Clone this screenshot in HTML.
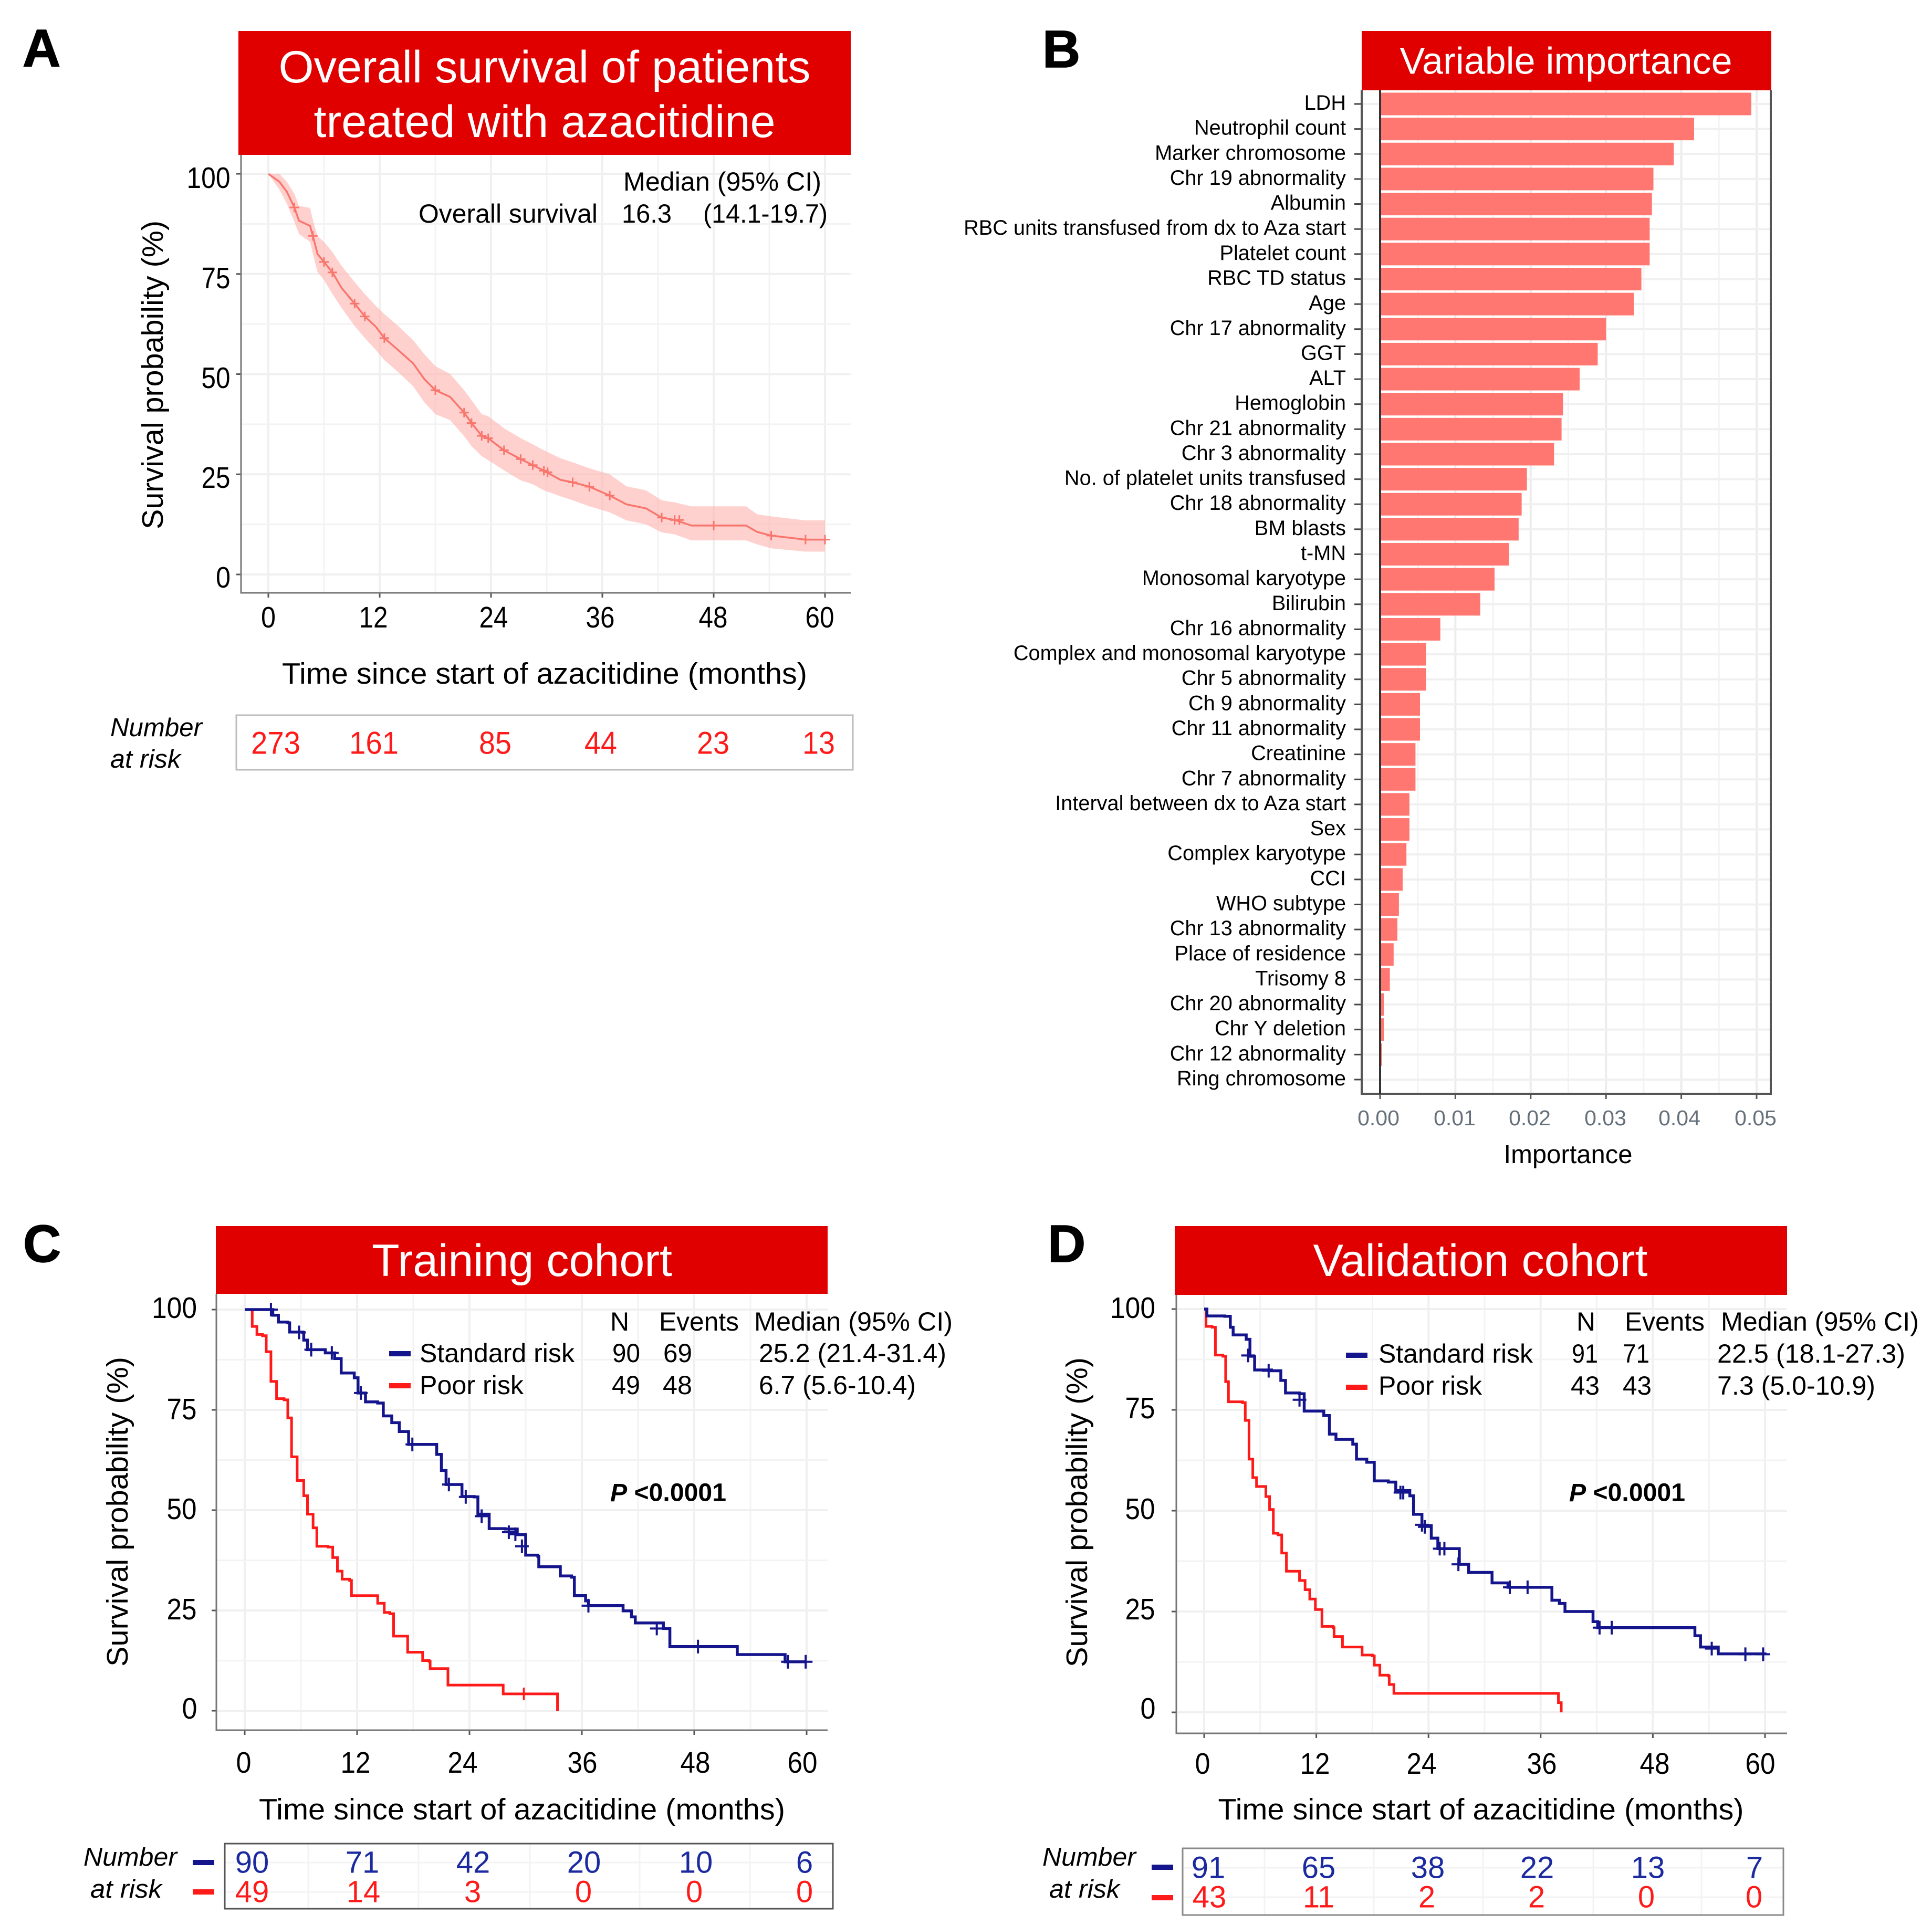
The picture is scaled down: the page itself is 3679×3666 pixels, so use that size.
<!DOCTYPE html>
<html lang="en">
<head>
<meta charset="utf-8">
<title>Survival figure</title>
<style>
html,body{margin:0;padding:0;background:#fff;}
svg{display:block;}
text{font-family:"Liberation Sans",sans-serif;dominant-baseline:central;fill:#000;}
.mid{text-anchor:middle;}
.end{text-anchor:end;}
.title{fill:#fff;font-size:86px;text-anchor:middle;}
.letter{font-size:100px;font-weight:bold;dominant-baseline:alphabetic;stroke:#000;stroke-width:1.5px;}
.axt{font-size:57px;text-anchor:middle;}
.leg{font-size:50px;}
.tk{font-size:57px;text-anchor:middle;}
.tke{font-size:57px;text-anchor:middle;}
.ra{font-size:60px;fill:#ff1a1a;text-anchor:middle;}
.rb{font-size:58px;fill:#1c2aa0;text-anchor:middle;}
.rr{font-size:58px;fill:#ff1a1a;text-anchor:middle;}
.ital{font-size:49px;font-style:italic;}
.pv{font-size:48px;font-weight:bold;}
.bt{font-size:41px;fill:#66707a;text-anchor:middle;}
</style>
</head>
<body>
<svg id="figure" xmlns="http://www.w3.org/2000/svg" width="3679" height="3666" viewBox="0 0 3679 3666">
<rect x="0" y="0" width="3679" height="3666" fill="#fff"/>
<g id="marks-a"></g>
<g id="marks-b"></g>
<g id="marks-c"></g>
<g id="marks-d"></g>

<!-- Panel A -->
<text class="letter" x="43" y="126">A</text>
<rect x="454" y="59" width="1166" height="236" fill="#e00000"/>
<text class="title" x="1037" y="128" textLength="1013" lengthAdjust="spacingAndGlyphs">Overall survival of patients</text>
<text class="title" x="1037" y="232" textLength="879" lengthAdjust="spacingAndGlyphs">treated with azacitidine</text>
<text class="axt" transform="translate(291 714) rotate(-90)" textLength="588" lengthAdjust="spacingAndGlyphs">Survival probability (%)</text>
<text class="axt" x="1037" y="1283" textLength="1000" lengthAdjust="spacingAndGlyphs">Time since start of azacitidine (months)</text>
<g>
<text class="tk" x="397" y="339" textLength="83" lengthAdjust="spacingAndGlyphs">100</text>
<text class="tk" x="411" y="530" textLength="55" lengthAdjust="spacingAndGlyphs">75</text>
<text class="tk" x="411" y="720" textLength="55" lengthAdjust="spacingAndGlyphs">50</text>
<text class="tk" x="411" y="910" textLength="55" lengthAdjust="spacingAndGlyphs">25</text>
<text class="tk" x="425" y="1100" textLength="28" lengthAdjust="spacingAndGlyphs">0</text>
</g>
<g>
<text class="tk" x="511" y="1176" textLength="28" lengthAdjust="spacingAndGlyphs">0</text>
<text class="tk" x="711" y="1176" textLength="55" lengthAdjust="spacingAndGlyphs">12</text>
<text class="tk" x="940" y="1176" textLength="55" lengthAdjust="spacingAndGlyphs">24</text>
<text class="tk" x="1143" y="1176" textLength="55" lengthAdjust="spacingAndGlyphs">36</text>
<text class="tk" x="1358" y="1176" textLength="55" lengthAdjust="spacingAndGlyphs">48</text>
<text class="tk" x="1561" y="1176" textLength="55" lengthAdjust="spacingAndGlyphs">60</text>
</g>
<g>
<text class="leg" x="1187" y="346" textLength="377" lengthAdjust="spacingAndGlyphs">Median (95% CI)</text>
<text class="leg" x="797" y="407" textLength="341" lengthAdjust="spacingAndGlyphs">Overall survival</text>
<text class="leg" x="1184" y="407" textLength="95" lengthAdjust="spacingAndGlyphs">16.3</text>
<text class="leg" x="1339" y="407" textLength="237" lengthAdjust="spacingAndGlyphs">(14.1-19.7)</text>
</g>
<g>
<text class="ital" x="210" y="1386" textLength="175" lengthAdjust="spacingAndGlyphs">Number</text>
<text class="ital" x="210" y="1446" textLength="134" lengthAdjust="spacingAndGlyphs">at risk</text>
<rect x="450" y="1362" width="1174" height="104" fill="none" stroke="#bdbdbd" stroke-width="3"/>
<text class="ra" x="525" y="1415" textLength="94" lengthAdjust="spacingAndGlyphs">273</text>
<text class="ra" x="712" y="1415" textLength="94" lengthAdjust="spacingAndGlyphs">161</text>
<text class="ra" x="943" y="1415" textLength="62" lengthAdjust="spacingAndGlyphs">85</text>
<text class="ra" x="1144" y="1415" textLength="62" lengthAdjust="spacingAndGlyphs">44</text>
<text class="ra" x="1358" y="1415" textLength="62" lengthAdjust="spacingAndGlyphs">23</text>
<text class="ra" x="1559" y="1415" textLength="62" lengthAdjust="spacingAndGlyphs">13</text>
</g>

<!-- Panel B -->
<text class="letter" x="1985" y="128">B</text>
<rect x="2593" y="59" width="780" height="113" fill="#e00000"/>
<text class="title" x="2982" y="117" style="font-size:71px" textLength="633" lengthAdjust="spacingAndGlyphs">Variable importance</text>
<text class="mid" x="2986" y="2199" style="font-size:49px" textLength="245" lengthAdjust="spacingAndGlyphs">Importance</text>
<g>
<text class="bt" x="2625" y="2129">0.00</text>
<text class="bt" x="2770" y="2129">0.01</text>
<text class="bt" x="2913" y="2129">0.02</text>
<text class="bt" x="3057" y="2129">0.03</text>
<text class="bt" x="3198" y="2129">0.04</text>
<text class="bt" x="3343" y="2129">0.05</text>
</g>

<!-- Panel C -->
<text class="letter" x="44" y="2403">C</text>
<rect x="411" y="2335" width="1165" height="129" fill="#e00000"/>
<text class="title" x="994" y="2401" textLength="572" lengthAdjust="spacingAndGlyphs">Training cohort</text>
<text class="axt" transform="translate(224 2879) rotate(-90)" textLength="590" lengthAdjust="spacingAndGlyphs">Survival probability (%)</text>
<text class="axt" x="994" y="3446" textLength="1002" lengthAdjust="spacingAndGlyphs">Time since start of azacitidine (months)</text>
<g>
<text class="tke" x="332" y="2491" textLength="86" lengthAdjust="spacingAndGlyphs">100</text>
<text class="tke" x="346" y="2684" textLength="57" lengthAdjust="spacingAndGlyphs">75</text>
<text class="tke" x="346" y="2874" textLength="57" lengthAdjust="spacingAndGlyphs">50</text>
<text class="tke" x="346" y="3065" textLength="57" lengthAdjust="spacingAndGlyphs">25</text>
<text class="tke" x="361" y="3254" textLength="29" lengthAdjust="spacingAndGlyphs">0</text>
</g>
<g>
<text class="tke" x="464" y="3357" textLength="29" lengthAdjust="spacingAndGlyphs">0</text>
<text class="tke" x="677" y="3357" textLength="57" lengthAdjust="spacingAndGlyphs">12</text>
<text class="tke" x="881" y="3357" textLength="57" lengthAdjust="spacingAndGlyphs">24</text>
<text class="tke" x="1109" y="3357" textLength="57" lengthAdjust="spacingAndGlyphs">36</text>
<text class="tke" x="1324" y="3357" textLength="57" lengthAdjust="spacingAndGlyphs">48</text>
<text class="tke" x="1528" y="3357" textLength="57" lengthAdjust="spacingAndGlyphs">60</text>
</g>
<g>
<text class="leg mid" x="1180" y="2517">N</text>
<text class="leg" x="1255" y="2517" textLength="152" lengthAdjust="spacingAndGlyphs">Events</text>
<text class="leg" x="1436" y="2517" textLength="378" lengthAdjust="spacingAndGlyphs">Median (95% CI)</text>
<rect x="741" y="2573" width="41" height="10" fill="#14148c"/>
<rect x="741" y="2634" width="41" height="10" fill="#ff1a1a"/>
<text class="leg" x="799" y="2577" textLength="295" lengthAdjust="spacingAndGlyphs">Standard risk</text>
<text class="leg" x="799" y="2638" textLength="198" lengthAdjust="spacingAndGlyphs">Poor risk</text>
<text class="leg" x="1166" y="2577" textLength="53" lengthAdjust="spacingAndGlyphs">90</text>
<text class="leg" x="1263" y="2577" textLength="55" lengthAdjust="spacingAndGlyphs">69</text>
<text class="leg" x="1445" y="2577" textLength="357" lengthAdjust="spacingAndGlyphs">25.2 (21.4-31.4)</text>
<text class="leg" x="1165" y="2638" textLength="54" lengthAdjust="spacingAndGlyphs">49</text>
<text class="leg" x="1262" y="2638" textLength="56" lengthAdjust="spacingAndGlyphs">48</text>
<text class="leg" x="1445" y="2638" textLength="299" lengthAdjust="spacingAndGlyphs">6.7 (5.6-10.4)</text>
</g>
<text class="pv" x="1162" y="2843" textLength="221" lengthAdjust="spacingAndGlyphs"><tspan font-style="italic">P</tspan> &lt;0.0001</text>
<g>
<text class="ital mid" x="248" y="3537" textLength="178" lengthAdjust="spacingAndGlyphs">Number</text>
<text class="ital mid" x="240" y="3598" textLength="136" lengthAdjust="spacingAndGlyphs">at risk</text>
<rect x="367" y="3542" width="41" height="10" fill="#14148c"/>
<rect x="367" y="3598" width="41" height="10" fill="#ff1a1a"/>
<path d="M587 3511V3635M797 3511V3635M1009 3511V3635M1218 3511V3635M1428 3511V3635M428 3547H1586M428 3603H1586" stroke="#f3f3f3" stroke-width="3" fill="none"/>
<rect x="428" y="3511" width="1158" height="124" fill="none" stroke="#555" stroke-width="3"/>
<text class="rb" x="480" y="3547">90</text>
<text class="rb" x="690" y="3547">71</text>
<text class="rb" x="901" y="3547">42</text>
<text class="rb" x="1112" y="3547">20</text>
<text class="rb" x="1325" y="3547">10</text>
<text class="rb" x="1532" y="3547">6</text>
<text class="rr" x="480" y="3603">49</text>
<text class="rr" x="692" y="3603">14</text>
<text class="rr" x="900" y="3603">3</text>
<text class="rr" x="1111" y="3603">0</text>
<text class="rr" x="1322" y="3603">0</text>
<text class="rr" x="1532" y="3603">0</text>
</g>

<!-- Panel D -->
<text class="letter" x="1995" y="2403">D</text>
<rect x="2237" y="2335" width="1166" height="131" fill="#e00000"/>
<text class="title" x="2819" y="2401" textLength="637" lengthAdjust="spacingAndGlyphs">Validation cohort</text>
<text class="axt" transform="translate(2051 2880) rotate(-90)" textLength="590" lengthAdjust="spacingAndGlyphs">Survival probability (%)</text>
<text class="axt" x="2820" y="3446" textLength="1001" lengthAdjust="spacingAndGlyphs">Time since start of azacitidine (months)</text>
<g>
<text class="tke" x="2157" y="2491" textLength="86" lengthAdjust="spacingAndGlyphs">100</text>
<text class="tke" x="2171" y="2682" textLength="57" lengthAdjust="spacingAndGlyphs">75</text>
<text class="tke" x="2171" y="2874" textLength="57" lengthAdjust="spacingAndGlyphs">50</text>
<text class="tke" x="2171" y="3065" textLength="57" lengthAdjust="spacingAndGlyphs">25</text>
<text class="tke" x="2186" y="3254" textLength="29" lengthAdjust="spacingAndGlyphs">0</text>
</g>
<g>
<text class="tke" x="2290" y="3359" textLength="29" lengthAdjust="spacingAndGlyphs">0</text>
<text class="tke" x="2504" y="3359" textLength="57" lengthAdjust="spacingAndGlyphs">12</text>
<text class="tke" x="2707" y="3359" textLength="57" lengthAdjust="spacingAndGlyphs">24</text>
<text class="tke" x="2936" y="3359" textLength="57" lengthAdjust="spacingAndGlyphs">36</text>
<text class="tke" x="3151" y="3359" textLength="57" lengthAdjust="spacingAndGlyphs">48</text>
<text class="tke" x="3352" y="3359" textLength="57" lengthAdjust="spacingAndGlyphs">60</text>
</g>
<g>
<text class="leg mid" x="3020" y="2517">N</text>
<text class="leg" x="3094" y="2517" textLength="152" lengthAdjust="spacingAndGlyphs">Events</text>
<text class="leg" x="3277" y="2517" textLength="377" lengthAdjust="spacingAndGlyphs">Median (95% CI)</text>
<rect x="2563" y="2576" width="41" height="10" fill="#14148c"/>
<rect x="2563" y="2637" width="41" height="10" fill="#ff1a1a"/>
<text class="leg" x="2625" y="2578" textLength="294" lengthAdjust="spacingAndGlyphs">Standard risk</text>
<text class="leg" x="2625" y="2639" textLength="197" lengthAdjust="spacingAndGlyphs">Poor risk</text>
<text class="leg" x="2993" y="2578" textLength="50" lengthAdjust="spacingAndGlyphs">91</text>
<text class="leg" x="3090" y="2578" textLength="51" lengthAdjust="spacingAndGlyphs">71</text>
<text class="leg" x="3270" y="2578" textLength="358" lengthAdjust="spacingAndGlyphs">22.5 (18.1-27.3)</text>
<text class="leg" x="2991" y="2639" textLength="55" lengthAdjust="spacingAndGlyphs">43</text>
<text class="leg" x="3090" y="2639" textLength="55" lengthAdjust="spacingAndGlyphs">43</text>
<text class="leg" x="3270" y="2639" textLength="301" lengthAdjust="spacingAndGlyphs">7.3 (5.0-10.9)</text>
</g>
<text class="pv" x="2988" y="2843" textLength="221" lengthAdjust="spacingAndGlyphs"><tspan font-style="italic">P</tspan> &lt;0.0001</text>
<g>
<text class="ital mid" x="2074" y="3537" textLength="178" lengthAdjust="spacingAndGlyphs">Number</text>
<text class="ital mid" x="2065" y="3598" textLength="134" lengthAdjust="spacingAndGlyphs">at risk</text>
<rect x="2193" y="3551" width="41" height="10" fill="#14148c"/>
<rect x="2193" y="3609" width="41" height="10" fill="#ff1a1a"/>
<path d="M2408 3520V3647M2616 3520V3647M2824 3520V3647M3034 3520V3647M3240 3520V3647M2252 3557H3396M2252 3613H3396" stroke="#f3f3f3" stroke-width="3" fill="none"/>
<rect x="2252" y="3520" width="1144" height="127" fill="none" stroke="#8a8a8a" stroke-width="3"/>
<text class="rb" x="2301" y="3557">91</text>
<text class="rb" x="2511" y="3557">65</text>
<text class="rb" x="2719" y="3557">38</text>
<text class="rb" x="2927" y="3557">22</text>
<text class="rb" x="3138" y="3557">13</text>
<text class="rb" x="3341" y="3557">7</text>
<text class="rr" x="2303" y="3613">43</text>
<text class="rr" x="2511" y="3613">11</text>
<text class="rr" x="2717" y="3613">2</text>
<text class="rr" x="2926" y="3613">2</text>
<text class="rr" x="3135" y="3613">0</text>
<text class="rr" x="3340" y="3613">0</text>
</g>
</svg>

<script>
// Shared axis values
const monthTicks = [0, 12, 24, 36, 48, 60];
const monthMinorTicks = [6, 18, 30, 42, 54];
const survivalTicks = [0, 25, 50, 75, 100];
const survivalMinorTicks = [12.5, 37.5, 62.5, 87.5];

// Panel A: overall survival
const aTimes = [0,1.2,2,2.8,3.3,4.5,4.8,5.3,6,6.9,7.9,9.3,10.4,11.6,12.5,14,15.6,16.8,18,19.6,21.1,21.9,23,23.7,25.4,27.2,28.5,29.7,31.5,32.8,34.6,36.8,38.6,40.7,42.4,43.8,45.6,51.5,52.7,54.2,57.9,60];
const aSurvival = [100,98,95.5,91.6,88.3,87,84.5,80,78,75.4,71.5,67.6,64.4,61.8,59,56,52.7,48.8,46,44.3,40.4,37.8,34.6,34,31,28.8,27.3,25.9,23.6,23,21.9,19.7,17.5,16.5,14.2,13.6,12.2,12.2,10.6,9.7,8.7,8.7];
const aUpper = [100,100,98,95,92,91.5,88.5,84.5,83,80.5,77,73,70,67,65,62,58.5,55,52,50,46,43.5,40,39.5,36.5,34,32.5,31,29,28,26.5,25,22,21,18.5,18,17,17,15,14.5,13.5,13.5];
const aLower = [100,96,92.5,88,85,83,80,75.5,73.5,70,66.5,62,59,56,53.5,50.5,47,43,40,38.5,34.5,32,29.5,28.5,26,23.5,22.5,21,19.5,18.5,17,15.5,13.5,12.5,10.5,10,8.5,8.5,7.5,6.5,5.7,5.7];
const aCensorTimes = [2.8,4.8,6,6.9,9.3,10.4,12.5,18,21.1,21.9,23,23.7,25.4,27.2,28.5,29.7,30.1,32.8,34.6,36.8,42.4,43.8,44.3,48,54.2,57.9,60];
const aCensorSurvival = [91.6,84.5,78,75.4,67.6,64.4,59,46,40.4,37.8,34.6,34,31,28.8,27.3,25.9,25.5,23,21.9,19.7,14.2,13.6,13.6,12.2,9.7,8.7,8.7];

// Panel B: variable importance
const bCategories = ["LDH","Neutrophil count","Marker chromosome","Chr 19 abnormality","Albumin","RBC units transfused from dx to Aza start","Platelet count","RBC TD status","Age","Chr 17 abnormality","GGT","ALT","Hemoglobin","Chr 21 abnormality","Chr 3 abnormality","No. of platelet units transfused","Chr 18 abnormality","BM blasts","t-MN","Monosomal karyotype","Bilirubin","Chr 16 abnormality","Complex and monosomal karyotype","Chr 5 abnormality","Ch 9 abnormality","Chr 11 abnormality","Creatinine","Chr 7 abnormality","Interval between dx to Aza start","Sex","Complex karyotype","CCI","WHO subtype","Chr 13 abnormality","Place of residence","Trisomy 8","Chr 20 abnormality","Chr Y deletion","Chr 12 abnormality","Ring chromosome"];
const bImportance = [0.0493,0.0417,0.0390,0.0363,0.0361,0.0358,0.0358,0.0347,0.0337,0.0300,0.0289,0.0265,0.0243,0.0241,0.0231,0.0195,0.0188,0.0184,0.0171,0.0152,0.0133,0.0080,0.0061,0.0061,0.0053,0.0053,0.0047,0.0047,0.0039,0.0039,0.0035,0.0030,0.0025,0.0023,0.0018,0.0013,0.0005,0.0005,0.00025,0];
const bTicks = [0,0.01,0.02,0.03,0.04,0.05];
const bMinorTicks = [0.005,0.015,0.025,0.035,0.045];

// Panel C: training cohort
const cStandardTimes = [0,2.8,3,3.6,4.6,4.8,6.2,6.3,6.7,8.6,9.6,10.3,11.7,12.1,12.9,14.2,14.8,15.7,16.5,17.5,19.8,20.5,21,21.5,23.2,24.5,24.9,26.1,27.8,29.1,30,31.3,31.4,33.1,33.7,34.9,35.2,36.4,36.7,40,40.4,41.3,41.7,44.7,45.4,52.5,52.6,57.4,57.7,60];
const cStandardSurvival = [100,100,98.6,96.9,96.7,94.4,94.3,92.4,90,89.2,87.8,84.2,83,79.2,77,76.7,73.5,71.8,69.6,66.4,66.4,63.9,59.9,56.4,53.4,53.3,49,45.4,45.3,43.9,38.8,38.5,35.9,35.9,33.6,33.3,28.7,27.4,26.2,26.2,24.9,23.4,21.9,20.5,16,16,14,14,12.2,12.2];
const cStandardCensorTimes = [2.8,5.8,7.1,9.3,12.4,17.9,21.8,23.6,25.3,28.2,28.9,29.6,36.7,44,48.4,58,59.9];
const cStandardCensorSurvival = [100,94.3,90,89.2,79.2,66.4,56.4,53.3,48.5,44.5,44,41,26.2,20.5,16,12.2,12.2];
const cPoorTimes = [0,0.5,0.8,1.3,1.9,2.3,2.8,3.4,4.2,4.6,5,5.6,6.3,6.7,7.3,7.7,8.9,9.4,9.9,10.4,11.2,11.4,14,14.2,14.9,15.5,15.9,17.2,17.4,18.9,19,19.7,19.8,21.6,21.7,27.5,27.6,33.4,33.4];
const cPoorSurvival = [100,100,95.8,93.8,93.5,89.5,82.1,77.8,77.5,73,63.3,57.4,53.6,49,45.6,41,40.8,38.2,34.8,32.8,32.5,28.7,28.7,26.8,24.5,24.2,18.6,18.6,14.6,14.6,12.5,12.3,10.5,10.5,6.4,6.4,4.2,4.2,0];
const cPoorCensorTimes = [29.8];
const cPoorCensorSurvival = [4.2];

// Panel D: validation cohort
const dStandardTimes = [0,0.3,2.2,2.8,3.1,4.5,4.9,5.4,7.2,8.2,8.7,10.2,10.7,12.8,13.4,14.1,15.9,16.3,17.4,18.2,19.7,20.5,22,22.4,23.3,24.3,25,26.6,27.3,28.3,29.8,30.8,32.5,37,37.2,38,38.6,40.9,41.6,42.1,51.7,52.5,53.1,55,60];
const dStandardSurvival = [100,98.3,98.2,95.5,93.6,92.5,88.3,84.9,84.7,82.3,79.2,79,74.7,73.6,69,67.7,66.5,62.8,62,57.4,57.1,55,53.7,49.1,46.3,43.2,40.6,40.6,36.7,34.7,34.7,32.1,31,31,27.8,27,25,25,22.5,21,21,19,16.2,14.5,14.4];
const dStandardCensorTimes = [4.7,6.9,10.2,21,21.3,23.3,23.6,25.2,25.7,27.2,32.7,34.6,42.3,43.6,54.3,57.9,59.8];
const dStandardCensorSurvival = [88.5,84.7,77.5,54.5,54.5,46.5,46,40.6,40.6,36.7,31,31,21,21,15.8,14.4,14.4];
const dPoorTimes = [0,0.2,0.85,1.2,2,2.3,2.6,4.1,4.4,4.8,5.2,5.6,6.4,6.6,7,7.4,7.9,8.3,8.8,10,10.2,10.8,11.3,11.9,12.6,13.8,13.9,14.8,16.7,16.9,18,18.2,18.8,19.7,19.8,20.3,37.6,37.9,38.2];
const dPoorSurvival = [100,95.7,95.5,88.6,88.3,82,77,76.8,72.4,62.8,58.2,56,56,53.5,50.3,44.4,44,39.5,35,35,32.7,30.4,28.1,25.5,21.3,21,18.8,16.2,16.2,14.2,14,11.7,9.2,9,6.9,4.7,4.7,2.4,0];

const NS = 'http://www.w3.org/2000/svg';
function make(parent, tag, attrs) {
  const e = document.createElementNS(NS, tag);
  for (const k in attrs) e.setAttribute(k, attrs[k]);
  parent.appendChild(e);
  return e;
}
function linearScale(d0, d1, r0, r1) {
  return function (v) { return r0 + (v - d0) / (d1 - d0) * (r1 - r0); };
}
function stepPath(ts, ss, x, y) {
  let d = 'M' + x(ts[0]).toFixed(1) + ' ' + y(ss[0]).toFixed(1);
  for (let i = 1; i < ts.length; i++) {
    d += 'H' + x(ts[i]).toFixed(1) + 'V' + y(ss[i]).toFixed(1);
  }
  return d;
}
function linePath(ts, ss, x, y) {
  return ts.map(function (t, i) { return (i ? 'L' : 'M') + x(t).toFixed(1) + ' ' + y(ss[i]).toFixed(1); }).join('');
}
function drawFrame(g, x, y, box) {
  monthMinorTicks.forEach(function (t) {
    const l = make(g, 'line', {x1: x(t), x2: x(t), y1: box.top, y2: box.bottom, stroke: '#f3f3f3', 'stroke-width': 3});
    
    
  });
  monthTicks.forEach(function (t) {
    const l = make(g, 'line', {x1: x(t), x2: x(t), y1: box.top, y2: box.bottom, stroke: '#f0f0f0', 'stroke-width': 4});
    
    
    const k = make(g, 'line', {x1: x(t), x2: x(t), y1: box.bottom, y2: box.bottom + 9, stroke: '#555', 'stroke-width': 3});
    
    
  });
  survivalMinorTicks.forEach(function (s) {
    const l = make(g, 'line', {x1: box.left, x2: box.right, y1: y(s), y2: y(s), stroke: '#f3f3f3', 'stroke-width': 3});
    
    
  });
  survivalTicks.forEach(function (s) {
    const l = make(g, 'line', {x1: box.left, x2: box.right, y1: y(s), y2: y(s), stroke: '#f0f0f0', 'stroke-width': 4});
    
    
    const k = make(g, 'line', {x1: box.left - 9, x2: box.left, y1: y(s), y2: y(s), stroke: '#555', 'stroke-width': 3});
    
    
  });
  const ax = make(g, 'path', {d: 'M' + box.left + ' ' + box.top + 'V' + box.bottom + 'H' + box.right, fill: 'none', stroke: '#777', 'stroke-width': 3});
  
  
}
function drawCensors(g, ts, ss, x, y, color, size, width, name) {
  ts.forEach(function (t, i) {
    const cx = x(t), cy = y(ss[i]);
    const p = make(g, 'path', {d: 'M' + (cx - size) + ' ' + cy + 'H' + (cx + size) + 'M' + cx + ' ' + (cy - size) + 'V' + (cy + size), stroke: color, 'stroke-width': width, fill: 'none'});
    
    
  });
}
function drawCohort(g, x, y, box, stdT, stdS, stdCT, stdCS, poorT, poorS, poorCT, poorCS) {
  drawFrame(g, x, y, box);
  const poor = make(g, 'path', {d: stepPath(poorT, poorS, x, y), fill: 'none', stroke: '#ff1a1a', 'stroke-width': 5});
  
  
  const std = make(g, 'path', {d: stepPath(stdT, stdS, x, y), fill: 'none', stroke: '#14148c', 'stroke-width': 5.5});
  
  
  drawCensors(g, stdCT, stdCS, x, y, '#14148c', 13, 4, 'standard-risk-censor-mark');
  drawCensors(g, poorCT, poorCS, x, y, '#ff1a1a', 12, 3.5, 'poor-risk-censor-mark');
}

// Panel A
(function () {
  const g = document.getElementById('marks-a');
  const x = linearScale(0, 60, 511, 1571);
  const y = linearScale(0, 100, 1094, 331);
  drawFrame(g, x, y, {left: 459, right: 1620, top: 295, bottom: 1129});
  const rev = aTimes.slice().reverse();
  const revLow = aLower.slice().reverse();
  const band = make(g, 'path', {d: linePath(aTimes, aUpper, x, y) + linePath(rev, revLow, x, y).replace('M', 'L') + 'Z', fill: '#ffb3ae', 'fill-opacity': 0.6});
  
  
  const line = make(g, 'path', {d: linePath(aTimes, aSurvival, x, y), fill: 'none', stroke: '#f8766d', 'stroke-width': 3.5});
  
  
  drawCensors(g, aCensorTimes, aCensorSurvival, x, y, '#f8766d', 9, 3, 'censor-mark');
})();

// Panel B
(function () {
  const g = document.getElementById('marks-b');
  const x = linearScale(0, 0.05, 2628, 3345);
  const y = function (i) { return 198 + i * 47.64; };
  const top = 172, bottom = 2083, left = 2593, right = 3372;
  bMinorTicks.forEach(function (t) {
    const l = make(g, 'line', {x1: x(t), x2: x(t), y1: top, y2: bottom, stroke: '#f3f3f3', 'stroke-width': 3});
    
    
  });
  bTicks.forEach(function (t) {
    const l = make(g, 'line', {x1: x(t), x2: x(t), y1: top, y2: bottom, stroke: '#ececec', 'stroke-width': 4});
    
    
    const k = make(g, 'line', {x1: x(t), x2: x(t), y1: bottom, y2: bottom + 10, stroke: '#555', 'stroke-width': 3});
    
    
  });
  bCategories.forEach(function (name, i) {
    const cy = y(i);
    const gl = make(g, 'line', {x1: left, x2: right, y1: cy, y2: cy, stroke: '#f0f0f0', 'stroke-width': 4});
    
    
    const bar = make(g, 'rect', {x: x(0), y: cy - 21.5, width: Math.max(0, x(bImportance[i]) - x(0)), height: 43, fill: '#ff7770'});
    
    
    const k = make(g, 'line', {x1: left - 14, x2: left, y1: cy, y2: cy, stroke: '#444', 'stroke-width': 3});
    
    
    const t = make(g, 'text', {x: 2563, y: cy - 2, 'font-size': 39.7, 'text-anchor': 'end'});
    t.textContent = name;
    
    
  });
  const frame = make(g, 'path', {d: 'M' + left + ' ' + top + 'V' + bottom + 'H' + right + 'V' + top, fill: 'none', stroke: '#555', 'stroke-width': 4});
  
  
  const zero = make(g, 'line', {x1: x(0), x2: x(0), y1: top, y2: bottom, stroke: '#333', 'stroke-width': 4});
  
  
})();

// Panel C
(function () {
  const g = document.getElementById('marks-c');
  const x = linearScale(0, 60, 466, 1536);
  const y = linearScale(0, 100, 3258, 2494);
  drawCohort(g, x, y, {left: 412, right: 1576, top: 2464, bottom: 3295},
    cStandardTimes, cStandardSurvival, cStandardCensorTimes, cStandardCensorSurvival,
    cPoorTimes, cPoorSurvival, cPoorCensorTimes, cPoorCensorSurvival);
})();

// Panel D
(function () {
  const g = document.getElementById('marks-d');
  const x = linearScale(0, 60, 2293, 3361);
  const y = linearScale(0, 100, 3261, 2493);
  drawCohort(g, x, y, {left: 2240, right: 3403, top: 2466, bottom: 3301},
    dStandardTimes, dStandardSurvival, dStandardCensorTimes, dStandardCensorSurvival,
    dPoorTimes, dPoorSurvival, [], []);
})();
</script>
</body>
</html>
